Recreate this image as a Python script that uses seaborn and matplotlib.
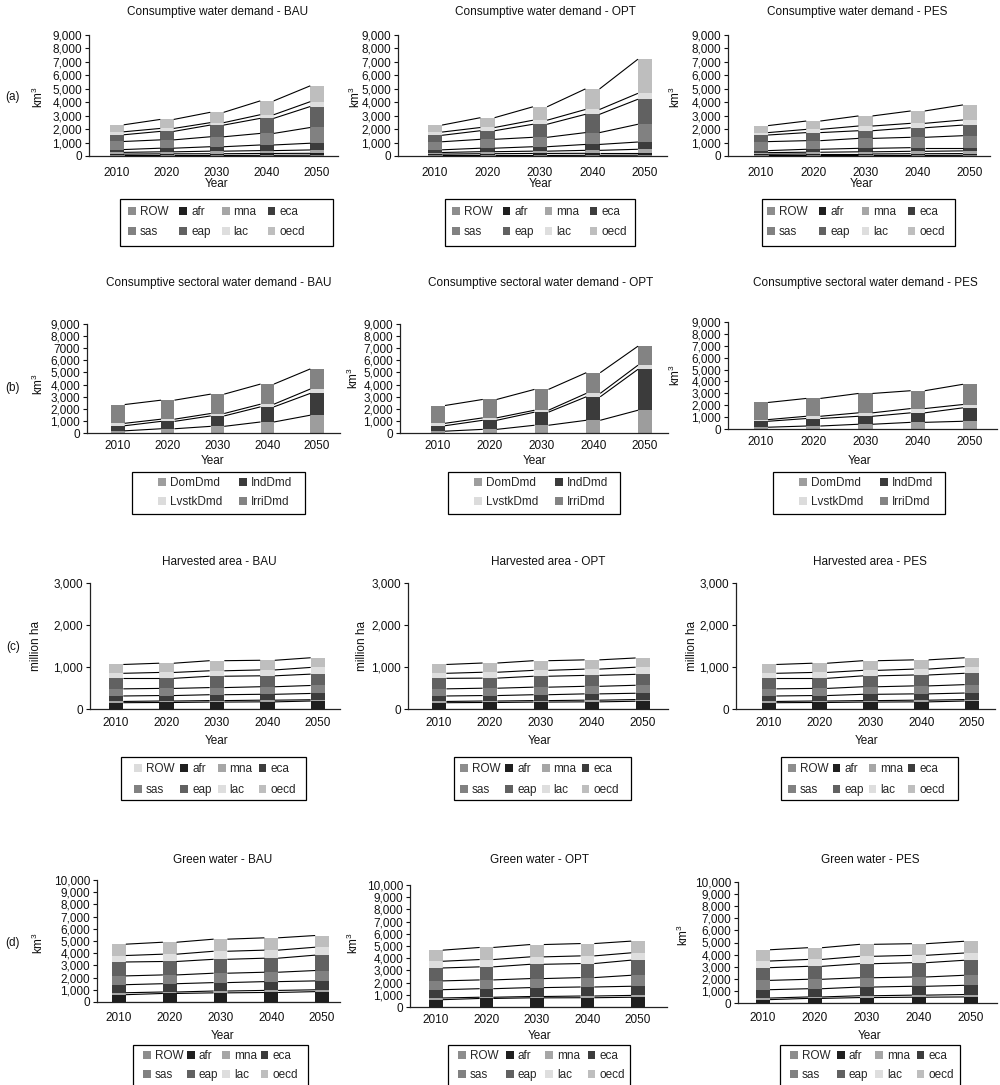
import numpy as np
import matplotlib
matplotlib.use("Agg")
import matplotlib.pyplot as plt
from matplotlib.patches import Patch, Rectangle
import seaborn as sns

# ---------------------------------------------------------------- data
years = ["2010", "2020", "2030", "2040", "2050"]
regions = ["ROW", "afr", "mna", "eca", "sas", "eap", "lac", "oecd"]
sectors = ["DomDmd", "IndDmd", "LvstkDmd", "IrriDmd"]

# (a) consumptive water demand by region, km3
cwd_bau = {
    "ROW": [40, 40, 40, 50, 60], "afr": [100, 120, 130, 140, 140],
    "mna": [130, 150, 190, 210, 250], "eca": [210, 270, 330, 420, 500],
    "sas": [600, 620, 740, 860, 1170], "eap": [500, 630, 870, 1120, 1560],
    "lac": [220, 220, 180, 270, 360], "oecd": [520, 670, 770, 1030, 1180],
}
cwd_opt = {
    "ROW": [40, 40, 40, 50, 60], "afr": [100, 130, 150, 150, 140],
    "mna": [120, 150, 170, 220, 300], "eca": [200, 260, 330, 440, 540],
    "sas": [600, 660, 700, 880, 1320], "eap": [480, 640, 970, 1360, 1860],
    "lac": [240, 240, 300, 360, 440], "oecd": [520, 730, 1000, 1530, 2540],
}
cwd_pes = {
    "ROW": [40, 40, 40, 40, 50], "afr": [90, 110, 110, 130, 130],
    "mna": [120, 130, 160, 180, 200], "eca": [150, 220, 260, 270, 240],
    "sas": [670, 640, 740, 770, 890], "eap": [490, 600, 570, 710, 790],
    "lac": [180, 240, 350, 330, 380], "oecd": [520, 620, 750, 920, 1120],
}

# (b) consumptive water demand by sector, km3
sec_bau = {"DomDmd": [180, 350, 550, 910, 1470], "IndDmd": [420, 610, 860, 1250, 1800],
           "LvstkDmd": [200, 180, 200, 220, 360], "IrriDmd": [1550, 1570, 1600, 1660, 1660]}
sec_opt = {"DomDmd": [150, 300, 640, 1050, 1880], "IndDmd": [450, 750, 1080, 1940, 3380],
           "LvstkDmd": [200, 200, 160, 280, 340], "IrriDmd": [1470, 1520, 1720, 1710, 1570]}
sec_pes = {"DomDmd": [150, 250, 400, 560, 650], "IndDmd": [500, 630, 670, 800, 1130],
           "LvstkDmd": [140, 190, 290, 360, 280], "IrriDmd": [1440, 1500, 1630, 1500, 1700]}

# (c) harvested area by region, million ha
ha_bau = {
    "ROW": [5, 5, 5, 5, 5], "afr": [145, 150, 160, 165, 185],
    "mna": [30, 35, 35, 40, 30], "eca": [130, 130, 140, 140, 150],
    "sas": [170, 170, 170, 180, 190], "eap": [250, 240, 270, 260, 270],
    "lac": [120, 140, 130, 140, 160], "oecd": [210, 220, 240, 230, 230],
}
ha_opt = {
    "ROW": [5, 5, 5, 5, 5], "afr": [145, 150, 160, 165, 180],
    "mna": [30, 35, 35, 40, 40], "eca": [130, 130, 140, 150, 150],
    "sas": [170, 175, 180, 180, 190], "eap": [250, 240, 260, 260, 260],
    "lac": [120, 140, 140, 150, 170], "oecd": [210, 220, 230, 220, 220],
}
ha_pes = {
    "ROW": [5, 5, 5, 5, 5], "afr": [145, 150, 160, 165, 185],
    "mna": [30, 35, 35, 40, 35], "eca": [130, 130, 150, 150, 155],
    "sas": [170, 170, 180, 190, 200], "eap": [250, 240, 260, 260, 270],
    "lac": [120, 140, 130, 140, 160], "oecd": [210, 220, 230, 220, 210],
}

# (d) green water by region, km3
gw_bau = {
    "ROW": [10, 10, 10, 10, 10], "afr": [590, 690, 740, 770, 840],
    "mna": [160, 120, 150, 170, 150], "eca": [660, 680, 690, 720, 730],
    "sas": [720, 720, 770, 770, 850], "eap": [1140, 1100, 1140, 1150, 1260],
    "lac": [530, 600, 660, 660, 650], "oecd": [930, 980, 990, 1010, 960],
}
gw_opt = {
    "ROW": [10, 10, 10, 10, 10], "afr": [590, 690, 740, 750, 790],
    "mna": [140, 100, 110, 140, 150], "eca": [680, 700, 730, 740, 750],
    "sas": [720, 720, 740, 770, 900], "eap": [1060, 1070, 1170, 1150, 1240],
    "lac": [550, 600, 610, 630, 600], "oecd": [910, 990, 1010, 1010, 960],
}
gw_pes = {
    "ROW": [10, 10, 10, 10, 10], "afr": [270, 370, 440, 470, 490],
    "mna": [130, 120, 150, 170, 200], "eca": [690, 680, 720, 730, 760],
    "sas": [770, 780, 770, 770, 830], "eap": [1050, 1070, 1160, 1180, 1240],
    "lac": [550, 570, 610, 610, 600], "oecd": [930, 970, 990, 960, 970],
}

ticks_9k = ["0", "1,000", "2,000", "3,000", "4,000", "5,000", "6,000", "7,000", "8,000", "9,000"]
ticks_9k_b = ["0", "1,000", "2,000", "3,000", "4,000", "5,000", "6,000", "7000", "8,000", "9,000"]
ticks_3k = ["0", "1,000", "2,000", "3,000"]
ticks_10k = ["0", "1,000", "2,000", "3,000", "4,000", "5,000", "6,000", "7,000", "8,000", "9,000", "10,000"]

# ---------------------------------------------------------------- style
region_colors = ["#8d8d8d", "#1f1f1f", "#a6a6a6", "#3c3c3c", "#818181", "#616161", "#dedede", "#bebebe"]
region_colors_ha = ["#dcdcdc"] + region_colors[1:]
sector_colors = ["#9d9d9d", "#3b3b3b", "#dcdcdc", "#838383"]

sns.set_theme(style="white")
plt.rcParams["font.family"] = ["Liberation Sans", "DejaVu Sans"]
plt.rcParams["mathtext.fontset"] = "custom"
plt.rcParams["mathtext.rm"] = "Liberation Sans"
plt.rcParams["mathtext.default"] = "rm"

FS = 8.5
W, H = 1000, 1085
fig = plt.figure(figsize=(W / 100, H / 100), dpi=100)
fig.patch.set_facecolor("white")


def draw_panel(data, names, colors, box, centers, ymax, ylabels, title, title_xy,
               ylab, ylab_xy, year_xy, legbox, ncol, xpad, lspace, width=0.27):
    L, R, T, B = box
    ax = fig.add_axes([L / W, 1 - B / H, (R - L) / W, (B - T) / H])
    cum = np.cumsum([data[n] for n in names], axis=0)
    # stacked bars: draw running totals from the top layer down
    for k in range(len(names) - 1, -1, -1):
        sns.barplot(x=years, y=cum[k], color=colors[k], width=width, saturation=1,
                    errorbar=None, linewidth=0, ax=ax, zorder=2)
    # series lines joining the top of each layer between neighbouring bars
    for k in range(len(names)):
        for i in range(len(years) - 1):
            ax.plot([i + width / 2, i + 1 - width / 2], [cum[k][i], cum[k][i + 1]],
                    color="black", lw=0.8, zorder=3, solid_capstyle="butt")
    x0, x4 = centers
    s = (x4 - x0) / 4
    ax.set_xlim((L - x0) / s, 4 + (R - x4) / s)
    ax.set_ylim(0, ymax)
    ax.set_xticks(range(len(years)))
    ax.set_xticklabels(years, fontsize=FS)
    ax.set_yticks(np.arange(0, ymax + 1, 1000))
    ax.set_yticklabels(ylabels, fontsize=FS)
    ax.set_xlabel("")
    ax.set_ylabel("")
    for side in ("top", "right"):
        ax.spines[side].set_visible(False)
    for side in ("left", "bottom"):
        ax.spines[side].set_color("#222222")
        ax.spines[side].set_linewidth(0.9)
    ax.tick_params(axis="x", length=0, pad=xpad, colors="#111111")
    ax.tick_params(axis="y", length=3, width=0.8, direction="out", pad=2, colors="#111111", left=True)
    ax.set_facecolor("white")

    fig.text(title_xy[0] / W, 1 - title_xy[1] / H, title, ha="center", va="center", fontsize=FS, color="#111111")
    fig.text(ylab_xy[0] / W, 1 - ylab_xy[1] / H, ylab, ha="center", va="center", rotation=90, fontsize=FS, color="#111111")
    fig.text(year_xy[0] / W, 1 - year_xy[1] / H, "Year", ha="center", va="center", fontsize=FS, color="#111111")

    # legend: outer box plus entries spread over an inner band
    bx0, bx1, btop, bbot, ix0, ix1, ymid = legbox
    fig.add_artist(Rectangle((bx0 / W, 1 - bbot / H), (bx1 - bx0) / W, (bbot - btop) / H,
                             transform=fig.transFigure, fill=False, edgecolor="black", lw=0.9))
    handles = [Patch(facecolor=c, edgecolor="none") for c in colors]
    nrow = len(names) // ncol
    order = [r * ncol + c for c in range(ncol) for r in range(nrow)]
    ax.legend([handles[i] for i in order], [names[i] for i in order], ncol=ncol,
              loc="center left", bbox_to_anchor=(ix0 / W, 1 - ymid / H, (ix1 - ix0) / W, 0),
              bbox_transform=fig.transFigure, mode="expand", frameon=False,
              handlelength=0.65, handleheight=0.65, handletextpad=0.35,
              columnspacing=0.4, borderpad=0, labelspacing=lspace, fontsize=FS,
              borderaxespad=0)
    return ax


# ---- row (a): consumptive water demand
draw_panel(cwd_bau, regions, region_colors, (89, 338, 35, 156), (117, 317), 9000, ticks_9k,
           "Consumptive water demand - BAU", (218, 12), "km$^3$", (38, 97), (217, 184),
           (120, 333, 199, 246, 128, 305, 222), 4, 8.0, 0.7)
draw_panel(cwd_opt, regions, region_colors, (398, 667, 35, 156), (435, 645), 9000, ticks_9k,
           "Consumptive water demand - OPT", (545, 12), "km$^3$", (355, 97), (541, 184),
           (445, 635, 199, 246, 452, 627, 222), 4, 8.0, 0.7)
draw_panel(cwd_pes, regions, region_colors, (728, 990, 35, 156), (761, 970), 9000, ticks_9k,
           "Consumptive water demand - PES", (857, 12), "km$^3$", (675, 97), (862, 184),
           (762, 955, 199, 246, 767, 945, 222), 4, 8.0, 0.7)

# ---- row (b): consumptive sectoral water demand
draw_panel(sec_bau, sectors, sector_colors, (87, 340, 324, 433), (118, 317), 9000, ticks_9k_b,
           "Consumptive sectoral water demand - BAU", (219, 283), "km$^3$", (38, 384), (213, 461),
           (132, 305, 472, 514, 158, 292, 492.5), 2, 5.0, 0.6)
draw_panel(sec_opt, sectors, sector_colors, (400, 668, 324, 433), (438, 645), 9000, ticks_9k,
           "Consumptive sectoral water demand - OPT", (541, 283), "km$^3$", (353, 378), (535, 461),
           (448, 620, 472, 514, 474, 608, 492.5), 2, 5.0, 0.6)
draw_panel(sec_pes, sectors, sector_colors, (728, 997, 322, 429), (761, 970), 9000, ticks_9k,
           "Consumptive sectoral water demand - PES", (865, 283), "km$^3$", (675, 375), (860, 461),
           (773, 945, 472, 514, 799, 933, 492.5), 2, 5.0, 0.6)

# ---- row (c): harvested area
draw_panel(ha_bau, regions, region_colors_ha, (90, 340, 583, 709), (116, 318), 3000, ticks_3k,
           "Harvested area - BAU", (219, 562), "million ha", (36, 646), (217, 741),
           (121, 306, 757, 800, 134, 296, 779.5), 4, 6.0, 0.75, width=0.29)
draw_panel(ha_opt, regions, region_colors, (408, 668, 583, 709), (439, 643), 3000, ticks_3k,
           "Harvested area - OPT", (548, 562), "million ha", (362, 646), (540, 741),
           (454, 631, 757, 800, 460, 619, 779.5), 4, 6.0, 0.75, width=0.29)
draw_panel(ha_pes, regions, region_colors, (736, 995, 583, 709), (769, 972), 3000, ticks_3k,
           "Harvested area - PES", (870, 562), "million ha", (692, 646), (867, 741),
           (781, 958, 757, 800, 788, 945, 779.5), 4, 6.0, 0.75, width=0.29)

# ---- row (d): green water
draw_panel(gw_bau, regions, region_colors, (97, 340, 880, 1002), (119, 322), 10000, ticks_10k,
           "Green water - BAU", (223, 860), "km$^3$", (38, 943), (223, 1036),
           (133, 308, 1045, 1095, 143, 298, 1065.5), 4, 7.5, 0.6)
draw_panel(gw_opt, regions, region_colors, (410, 667, 885, 1007), (436, 638), 10000, ticks_10k,
           "Green water - OPT", (539, 860), "km$^3$", (353, 943), (540, 1036),
           (448, 630, 1045, 1095, 458, 625, 1065.5), 4, 4.7, 0.6)
draw_panel(gw_pes, regions, region_colors, (738, 997, 882, 1003), (763, 971), 10000, ticks_10k,
           "Green water - PES", (870, 860), "km$^3$", (683, 935), (870, 1036),
           (780, 960, 1045, 1095, 790, 954, 1065.5), 4, 6.8, 0.6)

# row tags
for tag, y in (("(a)", 97), ("(b)", 388), ("(c)", 647), ("(d)", 943)):
    fig.text(13 / W, 1 - y / H, tag, ha="center", va="center", fontsize=FS, color="#111111")

fig.savefig("out.png", dpi=100, facecolor="white")
